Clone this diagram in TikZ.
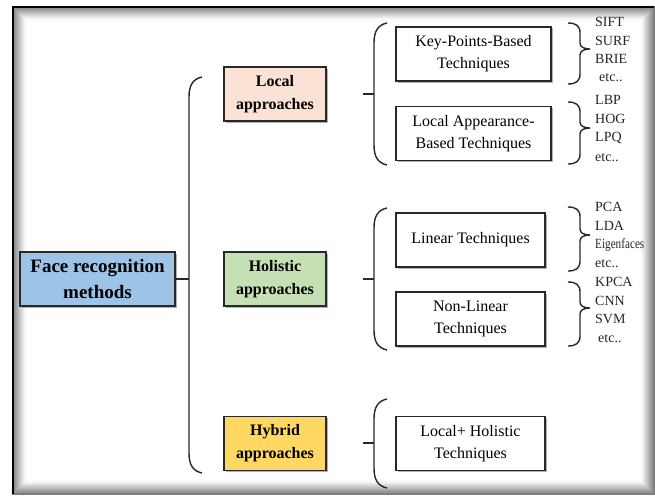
\documentclass[tikz,border=0pt]{standalone}
\usepackage{fontspec}
\setmainfont{Liberation Serif}
\usetikzlibrary{shadows,calc}
\definecolor{cface}{RGB}{157,195,230}
\definecolor{clocal}{RGB}{250,226,212}
\definecolor{cholis}{RGB}{197,224,180}
\definecolor{chybrid}{RGB}{255,216,100}
\definecolor{cline}{RGB}{40,40,40}
\newcommand\myrbrace[3]{%
  \draw[brc] (568,#1) .. controls (576,#1) and (580,#1+3) .. (580,#1+10) -- (580,#2-6)
    .. controls (580,#2-2) and (584,#2) .. (590,#2)
    .. controls (584,#2) and (580,#2+2) .. (580,#2+6) -- (580,#3-10)
    .. controls (580,#3-3) and (576,#3) .. (568,#3);}
\newcommand\mylbrace[4]{% x, top, bottom, curl x
  \draw[brc] (#4,#2) .. controls (#1+4,#2+2) and (#1,#2+8) .. (#1,#2+20) -- (#1,#3-20)
    .. controls (#1,#3-8) and (#1+4,#3-2) .. (#4,#3);}
\begin{document}
\begin{tikzpicture}[x=1pt,y=-1pt,
  shad/.style={drop shadow={shadow xshift=1.5pt,shadow yshift=-1.5pt,fill=black,opacity=0.3}},
  cbox/.style={draw=cline,line width=1.3pt,align=center,inner sep=0pt,shad,
    minimum width=102pt,minimum height=54pt,font=\fontsize{16}{23}\selectfont\bfseries},
  wbox/.style={draw=cline,line width=1.3pt,fill=white,align=center,inner sep=0pt,shad,
    minimum height=54pt,font=\fontsize{16}{22}\selectfont},
  brc/.style={draw=cline,line width=1.4pt},
  lst/.style={anchor=west,inner sep=0pt,font=\fontsize{14}{16}\selectfont,text=black!85}]
\useasboundingbox (0,0) rectangle (655,495);
\fill[white] (0,0) rectangle (655,495);
% frame with inner shadow
\foreach \i in {0,...,12}{
  \pgfmathsetmacro\p{52-4*\i}
  \draw[line width=1.1pt,black!\p] (13+\i,7+\i) rectangle (654-\i,494-\i);
}
\draw[line width=1.6pt,black] (13,494) -- (13,7) -- (654,7);
% main node
\node[draw=cline,line width=1.3pt,fill=cface,align=center,inner sep=0pt,shad,
  minimum width=155pt,minimum height=54pt,font=\fontsize{19}{26}\selectfont\bfseries]
  (face) at (97.5,279) {Face recognition\\methods};
\node[cbox,fill=clocal] (local) at (275,94) {Local\\approaches};
\node[cbox,fill=cholis] (holis) at (275,279) {Holistic\\approaches};
\node[cbox,fill=chybrid] (hybrid) at (275,443.5) {Hybrid\\approaches};
% main brace
\coordinate (mb) at (189,279);
\mylbrace{189}{77}{473}{202}
\draw[brc] (face.east) -- (mb);
% second-level braces
\mylbrace{374}{23}{165}{387}
\mylbrace{374}{208}{350}{387}
\mylbrace{374}{399}{488}{387}
\coordinate (lb) at (374,94);   \coordinate (lbs) at (363,94);
\coordinate (hb) at (374,279);  \coordinate (hbs) at (363,279);
\coordinate (yb) at (374,443);  \coordinate (ybs) at (363,443);
\draw[brc] (lbs) -- (lb);
\draw[brc] (hbs) -- (hb);
\draw[brc] (ybs) -- (yb);
% technique boxes
\node[wbox,minimum width=155pt] (kp) at (473.5,54) {Key-Points-Based\\Techniques};
\node[wbox,minimum width=155pt] (la) at (473.5,133.5) {Local Appearance-\\Based Techniques};
\node[wbox,minimum width=149pt] (lin) at (470.5,240) {Linear Techniques};
\node[wbox,minimum width=149pt] (nl) at (470.5,319) {Non-Linear\\Techniques};
\node[wbox,minimum width=149pt] (lh) at (470.5,443.5) {Local+ Holistic\\Techniques};
% right braces
\myrbrace{23}{49}{84}
\myrbrace{102}{128}{164}
\myrbrace{207}{235}{271}
\myrbrace{282}{308}{346}
% lists
\node[lst] (s1) at (595,22) {SIFT};
\node[lst] (s2) at (595,41) {SURF};
\node[lst] (s3) at (595,59) {BRIE};
\node[lst] (s4) at (599,78) {etc..};
\node[lst] (a1) at (595,100) {LBP};
\node[lst] (a2) at (595,119) {HOG};
\node[lst] (a3) at (595,138) {LPQ};
\node[lst] (a4) at (595,158) {etc..};
\node[lst] (p1) at (595,207) {PCA};
\node[lst] (p2) at (595,226) {LDA};
\node[lst] (p3) at (595,245) {\scalebox{0.8}[1]{Eigenfaces}};
\node[lst] (p4) at (595,264) {etc..};
\node[lst] (k1) at (595,282) {KPCA};
\node[lst] (k2) at (595,301) {CNN};
\node[lst] (k3) at (595,319) {SVM};
\node[lst] (k4) at (598,339) {etc..};
\end{tikzpicture}
\end{document}
